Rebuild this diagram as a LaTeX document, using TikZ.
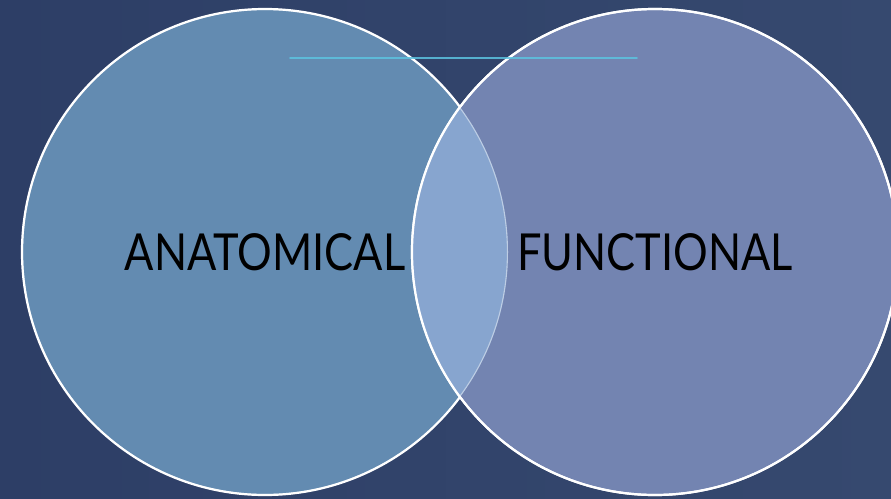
\documentclass[tikz,border=0pt]{standalone}
\usepackage{fontspec}
\setmainfont{Lato}[FakeStretch=0.85]
\usetikzlibrary{positioning}

\begin{document}
\begin{tikzpicture}[
    x=1pt, y=-1pt,
    font=\fontsize{51}{56}\selectfont,
]
% ── Colours ──
\definecolor{bgdark}{HTML}{2D3E66}
\definecolor{bglight}{HTML}{36496F}
\definecolor{anatfill}{HTML}{638BB1}
\definecolor{funcfill}{HTML}{7384B1}
\definecolor{overlap}{HTML}{87A5CF}
\definecolor{rule}{HTML}{5CC3E0}

% ── Styles ──
\tikzset{
    venn/.style={
        draw=white, circle, line width=2.2pt,
        minimum size=486pt, inner sep=0pt,
        align=center, text=black,
    },
    anat-set/.style={venn, fill=anatfill},
    func-set/.style={venn, fill=funcfill},
    ring/.style={draw=white, line width=2.2pt},
    title-rule/.style={draw=rule, line width=1.6pt, opacity=0.85, line cap=round},
}

% ── Background ──
\shade[left color=bgdark, right color=bglight] (0,0) rectangle (891,498);
\useasboundingbox (0,0) rectangle (891,498);

% ── Sets ──
\node[anat-set] (anat) at (265,252) {ANATOMICAL};
\node[func-set] (func) at (655,252) {FUNCTIONAL};

% ── Overlap ──
\begin{scope}
    \clip (anat.center) circle (243);
    \fill[overlap] (func.center) circle (243);
    \draw[ring, opacity=0.45] (anat.center) circle (243);
\end{scope}
\draw[ring] (func.center) circle (243);

% ── Title rule ──
\coordinate (rulel) at (290,58);
\coordinate (ruler) at (637,58);
\draw[title-rule] (rulel) -- (ruler);

\end{tikzpicture}
\end{document}
